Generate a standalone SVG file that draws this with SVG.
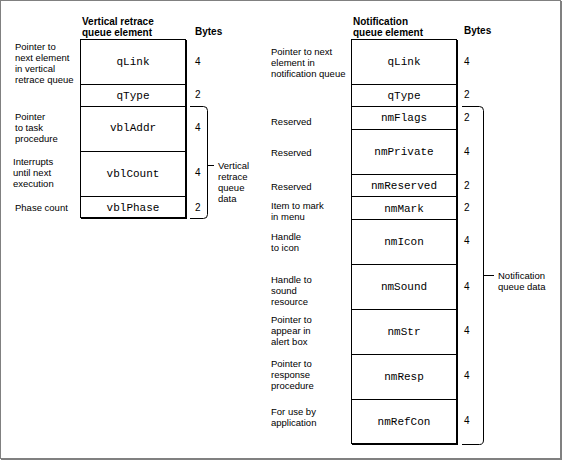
<svg xmlns="http://www.w3.org/2000/svg" width="563" height="461" viewBox="0 0 563 461">
<style>
.frame{fill:none;stroke:#808080;stroke-width:1}
.box{fill:#fff;stroke:#000;stroke-width:1}
.sh{stroke:#000;stroke-width:1;fill:none}
.ln{stroke:#000;stroke-width:1;fill:none}
.hd{font-family:"Liberation Sans",Arial,sans-serif;font-size:10px;font-weight:bold;fill:#000}
.lb{font-family:"Liberation Sans",Arial,sans-serif;font-size:9.5px;fill:#000}
.fd{font-family:"Liberation Mono","Courier New",monospace;font-size:11px;fill:#000;text-anchor:middle}
.by{font-family:"Liberation Sans",Arial,sans-serif;font-size:10px;fill:#000}
</style>
<rect x="0" y="0" width="563" height="461" fill="#fff"/>
<rect class="frame" x="0.5" y="0.5" width="560" height="458"/>
<line class="frame" x1="561.5" y1="1" x2="561.5" y2="460"/>
<line class="frame" x1="1" y1="459.5" x2="562" y2="459.5"/>

<g id="headers">
<text class="hd" x="82" y="25">Vertical retrace</text>
<text class="hd" x="82" y="36">queue element</text>
<text class="hd" x="195" y="35">Bytes</text>
<text class="hd" x="353" y="25">Notification</text>
<text class="hd" x="353" y="36">queue element</text>
<text class="hd" x="464" y="34">Bytes</text>
</g>

<g id="vbl-table">
<rect class="box" x="80.5" y="39.5" width="105" height="178"/>
<line class="sh" x1="186.5" y1="40" x2="186.5" y2="219"/>
<line class="sh" x1="81" y1="218.5" x2="187" y2="218.5"/>
<g id="vbl-qLink"><text class="fd" x="133" y="65">qLink</text><text class="by" x="195" y="65">4</text>
<text class="lb" x="15" y="50">Pointer to</text><text class="lb" x="15" y="61">next element</text><text class="lb" x="15" y="72">in vertical</text><text class="lb" x="15" y="83">retrace queue</text></g>
<line class="ln" x1="81" y1="84.5" x2="186" y2="84.5"/>
<g id="vbl-qType"><text class="fd" x="133" y="99">qType</text><text class="by" x="195" y="98">2</text></g>
<line class="ln" x1="81" y1="106.5" x2="186" y2="106.5"/>
<g id="vbl-vblAddr"><text class="fd" x="133" y="131">vblAddr</text><text class="by" x="195" y="131">4</text>
<text class="lb" x="15" y="120">Pointer</text><text class="lb" x="15" y="131">to task</text><text class="lb" x="15" y="142">procedure</text></g>
<line class="ln" x1="81" y1="151.5" x2="186" y2="151.5"/>
<g id="vbl-vblCount"><text class="fd" x="133" y="177">vblCount</text><text class="by" x="195" y="176">4</text>
<text class="lb" x="13" y="165">Interrupts</text><text class="lb" x="13" y="176">until next</text><text class="lb" x="13" y="187">execution</text></g>
<line class="ln" x1="81" y1="196.5" x2="186" y2="196.5"/>
<g id="vbl-vblPhase"><text class="fd" x="133" y="211">vblPhase</text><text class="by" x="195" y="211">2</text>
<text class="lb" x="15" y="211">Phase count</text></g>
</g>

<g id="nm-table">
<rect class="box" x="351.5" y="39.5" width="105" height="404"/>
<line class="sh" x1="457.5" y1="40" x2="457.5" y2="445"/>
<line class="sh" x1="352" y1="444.5" x2="458" y2="444.5"/>
<g id="nm-qLink"><text class="fd" x="404" y="65">qLink</text><text class="by" x="464" y="65">4</text>
<text class="lb" x="271" y="55">Pointer to next</text><text class="lb" x="271" y="66">element in</text><text class="lb" x="271" y="77">notification queue</text></g>
<line class="ln" x1="352" y1="84.5" x2="457" y2="84.5"/>
<g id="nm-qType"><text class="fd" x="404" y="99">qType</text><text class="by" x="464" y="98">2</text></g>
<line class="ln" x1="352" y1="106.5" x2="457" y2="106.5"/>
<g id="nm-nmFlags"><text class="fd" x="404" y="121">nmFlags</text><text class="by" x="464" y="121">2</text>
<text class="lb" x="271" y="125">Reserved</text></g>
<line class="ln" x1="352" y1="129.5" x2="457" y2="129.5"/>
<g id="nm-nmPrivate"><text class="fd" x="404" y="155">nmPrivate</text><text class="by" x="464" y="155">4</text>
<text class="lb" x="271" y="156">Reserved</text></g>
<line class="ln" x1="352" y1="174.5" x2="457" y2="174.5"/>
<g id="nm-nmReserved"><text class="fd" x="404" y="189">nmReserved</text><text class="by" x="464" y="189">2</text>
<text class="lb" x="271" y="190">Reserved</text></g>
<line class="ln" x1="352" y1="196.5" x2="457" y2="196.5"/>
<g id="nm-nmMark"><text class="fd" x="404" y="212">nmMark</text><text class="by" x="464" y="211">2</text>
<text class="lb" x="271" y="209">Item to mark</text><text class="lb" x="271" y="220">in menu</text></g>
<line class="ln" x1="352" y1="219.5" x2="457" y2="219.5"/>
<g id="nm-nmIcon"><text class="fd" x="404" y="245">nmIcon</text><text class="by" x="464" y="244">4</text>
<text class="lb" x="271" y="240">Handle</text><text class="lb" x="271" y="251">to icon</text></g>
<line class="ln" x1="352" y1="264.5" x2="457" y2="264.5"/>
<g id="nm-nmSound"><text class="fd" x="404" y="290">nmSound</text><text class="by" x="464" y="290">4</text>
<text class="lb" x="271" y="283">Handle to</text><text class="lb" x="271" y="294">sound</text><text class="lb" x="271" y="305">resource</text></g>
<line class="ln" x1="352" y1="309.5" x2="457" y2="309.5"/>
<g id="nm-nmStr"><text class="fd" x="404" y="335">nmStr</text><text class="by" x="464" y="334">4</text>
<text class="lb" x="271" y="323">Pointer to</text><text class="lb" x="271" y="334">appear in</text><text class="lb" x="271" y="345">alert box</text></g>
<line class="ln" x1="352" y1="354.5" x2="457" y2="354.5"/>
<g id="nm-nmResp"><text class="fd" x="404" y="380">nmResp</text><text class="by" x="464" y="379">4</text>
<text class="lb" x="271" y="367">Pointer to</text><text class="lb" x="271" y="378">response</text><text class="lb" x="271" y="389">procedure</text></g>
<line class="ln" x1="352" y1="399.5" x2="457" y2="399.5"/>
<g id="nm-nmRefCon"><text class="fd" x="404" y="425">nmRefCon</text><text class="by" x="464" y="424">4</text>
<text class="lb" x="271" y="415">For use by</text><text class="lb" x="271" y="426">application</text></g>
</g>

<g id="connectors">
<path class="ln" d="M190,106.5 H203.5 Q207.5,106.5 207.5,110.5 V214.5 Q207.5,218.5 203.5,218.5 H190"/>
<line class="ln" x1="207.5" y1="165.5" x2="214" y2="165.5"/>
<path class="ln" d="M462,106.5 H479.5 Q483.5,106.5 483.5,110.5 V440 Q483.5,444.5 479.5,444.5 H462"/>
<line class="ln" x1="483.5" y1="275.5" x2="494" y2="275.5"/>
</g>

<g id="bracket-labels">
<text class="lb" x="218" y="169">Vertical</text>
<text class="lb" x="218" y="180">retrace</text>
<text class="lb" x="218" y="191">queue</text>
<text class="lb" x="218" y="202">data</text>
<text class="lb" x="498" y="279">Notification</text>
<text class="lb" x="498" y="290">queue data</text>
</g>
</svg>
